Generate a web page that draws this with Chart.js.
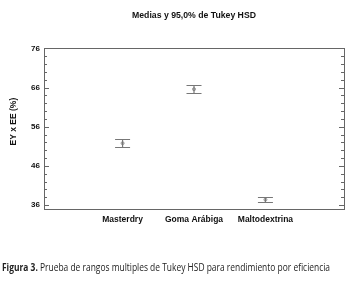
<!DOCTYPE html>
<html><head><meta charset="utf-8">
<script src="https://cdn.jsdelivr.net/npm/chart.js@4"></script>
<style>
html,body{margin:0;padding:0;background:#fff;}
#wrap{position:relative;width:352px;height:282px;overflow:hidden;}
#c{position:absolute;left:0;top:0;}
#cap{position:absolute;left:2px;top:260px;white-space:nowrap;font-family:"Open Sans",sans-serif;font-size:10px;color:#222;transform-origin:0 0;}
#cap b{font-weight:700;}
</style></head>
<body><div id="wrap"><canvas id="c" width="352" height="282"></canvas>
<div id="cap"><b>Figura 3.</b> Prueba de rangos multiples de Tukey HSD para rendimiento por eficiencia</div></div>
<script>
const categories = ["Masterdry", "Goma Arábiga", "Maltodextrina"];
const means = [51.8, 65.6, 37.4];
const lower = [50.8, 64.5, 36.7];
const upper = [52.9, 66.7, 38.1];
const yTicks = [36, 46, 56, 66, 76];
const yMinorStep = 2;

const cap = document.getElementById('cap');
const w = cap.getBoundingClientRect().width;
cap.style.transform = 'scaleX(' + (328 / w) + ')';

const FONT = '"Liberation Sans", Arial, sans-serif';
const axisColor = '#666';
const framePlugin = {
  id: 'frame',
  afterDatasetsDraw(chart) {
    const {ctx, chartArea: a, scales} = chart;
    const y = scales.y, x = scales.x;
    ctx.save();
    ctx.strokeStyle = axisColor; ctx.lineWidth = 1;
    ctx.strokeRect(Math.round(a.left) + 0.5, Math.round(a.top) + 0.5, Math.round(a.right - a.left), Math.round(a.bottom - a.top));
    for (let v = y.min; v <= y.max; v += 1) {
      if ((v - yTicks[0]) % yMinorStep !== 0) continue;
      const py = Math.round(y.getPixelForValue(v)) + 0.5;
      const major = yTicks.includes(v);
      const len = major ? 5 : 3;
      ctx.beginPath();
      ctx.moveTo(a.left, py); ctx.lineTo(a.left + len, py);
      ctx.moveTo(a.right, py); ctx.lineTo(a.right - len, py);
      ctx.stroke();
    }
    ctx.strokeStyle = '#777';
    ctx.lineWidth = 1.2;
    categories.forEach((c, i) => {
      const px = x.getPixelForValue(i + 1);
      const pl = Math.round(y.getPixelForValue(lower[i])) + 0.5;
      const pu = Math.round(y.getPixelForValue(upper[i])) + 0.5;
      ctx.beginPath();
      ctx.moveTo(px - 7.5, pl); ctx.lineTo(px + 7.5, pl);
      ctx.moveTo(px - 7.5, pu); ctx.lineTo(px + 7.5, pu);
      ctx.moveTo(px, pl); ctx.lineTo(px, pu);
      ctx.stroke();
    });
    ctx.restore();
  }
};

new Chart(document.getElementById('c'), {
  type: 'scatter',
  data: {
    datasets: [{
      data: means.map((m, i) => ({x: i + 1, y: m})),
      pointStyle: 'circle', pointRadius: 1.5, borderColor: '#999', backgroundColor: '#ccc', borderWidth: 1
    }]
  },
  options: {
    responsive: false, animation: false,
    layout: {padding: {left: 0, right: 8, top: 0, bottom: 0}},
    plugins: {
      legend: {display: false}, tooltip: {enabled: false},
      title: {display: true, fullSize: false, text: 'Medias y 95,0% de Tukey HSD', color: '#111',
        font: {family: FONT, size: 8.7, weight: 'bold'}, padding: {top: 10, bottom: 28}}
    },
    scales: {
      x: {
        type: 'linear', min: -0.1, max: 4.1,
        afterBuildTicks: s => { s.ticks = categories.map((c, i) => ({value: i + 1})); },
        afterFit: s => { s.height = 73; },
        ticks: {callback: (v) => categories[v - 1] || '', color: '#111', padding: 6,
          font: {family: FONT, size: 8.5, weight: 'bold'}, maxRotation: 0, autoSkip: false},
        grid: {display: false, drawTicks: false}, border: {display: false}
      },
      y: {
        min: 35, max: 76,
        afterBuildTicks: s => { s.ticks = yTicks.map(v => ({value: v})); },
        afterFit: s => { s.width = 44; },
        ticks: {color: '#111', padding: 4, font: {family: FONT, size: 8, weight: 'bold'}},
        grid: {display: false, drawTicks: false}, border: {display: false},
        title: {display: true, text: '      EY x EE (%)', color: '#111', padding: {top: 9, bottom: 0},
          font: {family: FONT, size: 8.5, weight: 'bold'}}
      }
    }
  },
  plugins: [framePlugin]
});
</script></body></html>
